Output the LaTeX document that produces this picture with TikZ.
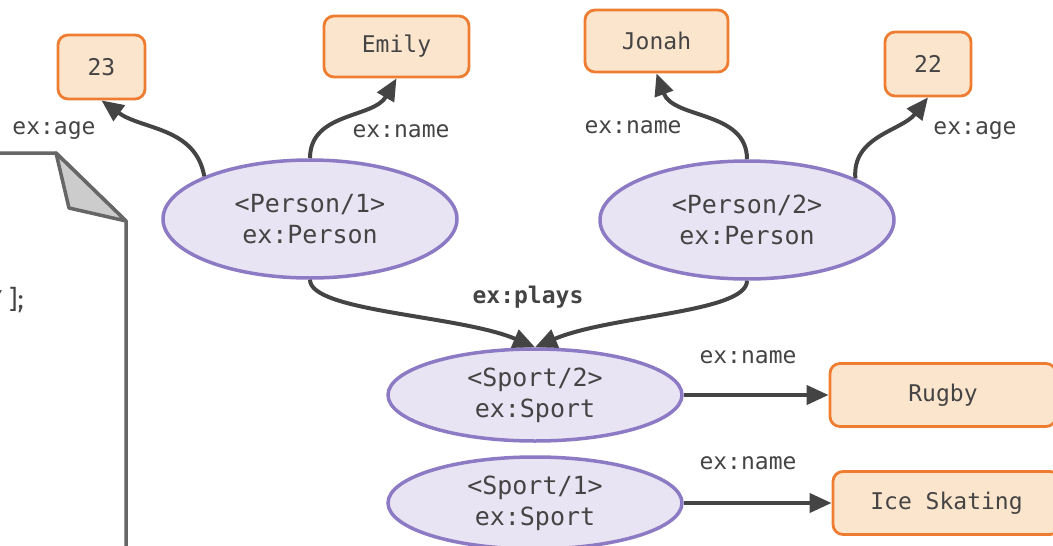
\documentclass[tikz,border=0pt]{standalone}
\usepackage{fontspec}
\newfontfamily\monof{DejaVu Sans Mono}
\newfontfamily\sansf{Fira Sans}
\usetikzlibrary{shapes.geometric,arrows.meta,calc}
\definecolor{txt}{HTML}{444444}
\definecolor{efill}{HTML}{E8E4F3}
\definecolor{edraw}{HTML}{8C7BC4}
\definecolor{bfill}{HTML}{FCE5CD}
\definecolor{bdraw}{HTML}{EE7D31}
\definecolor{docline}{HTML}{666666}
\definecolor{foldfill}{HTML}{CCCCCC}
\tikzset{
  res/.style={ellipse, draw=edraw, fill=efill, line width=3.5pt, minimum width=294pt, minimum height=118pt, inner sep=0pt, align=center, text=txt, font=\monof\fontsize{25}{31}\selectfont},
  resS/.style={res, minimum height=92pt},
  lit/.style={rectangle, rounded corners=10pt, draw=bdraw, fill=bfill, line width=2.8pt, inner sep=0pt, text=txt, font=\monof\fontsize{23}{28}\selectfont},
  lbl/.style={inner sep=0pt, text=txt, font=\monof\fontsize{23}{28}\selectfont},
  conn/.style={draw=txt, line width=4pt, -{Triangle[length=22pt,width=19pt]}},
  doc/.style={draw=docline, line width=3.5pt, line join=round}
}
\begin{document}
\begin{tikzpicture}[x=1pt,y=-1pt]
\useasboundingbox (0,0) rectangle (1053,546);
\clip (0,0) rectangle (1053,546);
% document shape
\draw[doc] (-10,153) -- (56,153) -- (126,221) -- (126,560);
\draw[doc, fill=foldfill] (56,153) -- (69,208) -- (126,221) -- cycle;
\node[anchor=east, inner sep=0pt, text=txt, font=\sansf\fontsize{26}{30}\selectfont] (code) at (24,300) {Y ];};
% resources
\node[res] (p1) at (310,219) {<Person/1>\\ex:Person};
\node[res] (p2) at (747,220) {<Person/2>\\ex:Person};
\node[resS] (s2) at (535,395) {<Sport/2>\\ex:Sport};
\node[resS] (s1) at (535,503) {<Sport/1>\\ex:Sport};
% literals
\node[lit, minimum width=87pt, minimum height=64pt] (a23) at (101.5,67) {23};
\node[lit, minimum width=145pt, minimum height=61pt] (emily) at (396.5,46.5) {Emily};
\node[lit, minimum width=143pt, minimum height=62pt] (jonah) at (656.5,41) {Jonah};
\node[lit, minimum width=86pt, minimum height=64pt] (a22) at (928,64) {22};
\node[lit, minimum width=226pt, minimum height=63pt] (rugby) at (943,395) {Rugby};
\node[lit, minimum width=227pt, minimum height=63pt] (ice) at (946.5,503) {Ice Skating};
% labels
\node[lbl] (l1) at (54,131) {ex:age};
\node[lbl] (l2) at (401,131) {ex:name};
\node[lbl] (l3) at (633,127) {ex:name};
\node[lbl] (l4) at (975,131) {ex:age};
\node[lbl, font=\monof\bfseries\fontsize{23}{28}\selectfont] (l5) at (528,297) {ex:plays};
\node[lbl] (l6) at (748,357) {ex:name};
\node[lbl] (l7) at (748,463) {ex:name};
% connectors
\draw[conn] (p1.158) to[out=100, in=-36] (a23.south);
\draw[conn] (p1.north) to[out=90, in=-120] (emily.south);
\draw[conn] (p2.north) to[out=90, in=-70] (jonah.south);
\draw[conn] (p2.21.5) to[out=95, in=232] (a22.south);
\draw[conn] (p1.south) .. controls ($(p1.south)+(0,32)$) and ($(s2.north)+(-75,-32)$) .. (s2.north);
\draw[conn] (p2.south) .. controls ($(p2.south)+(0,32)$) and ($(s2.north)+(75,-32)$) .. (s2.north);
\draw[conn] (s2.east) -- (rugby.west);
\draw[conn] (s1.east) -- (ice.west);
\end{tikzpicture}
\end{document}
